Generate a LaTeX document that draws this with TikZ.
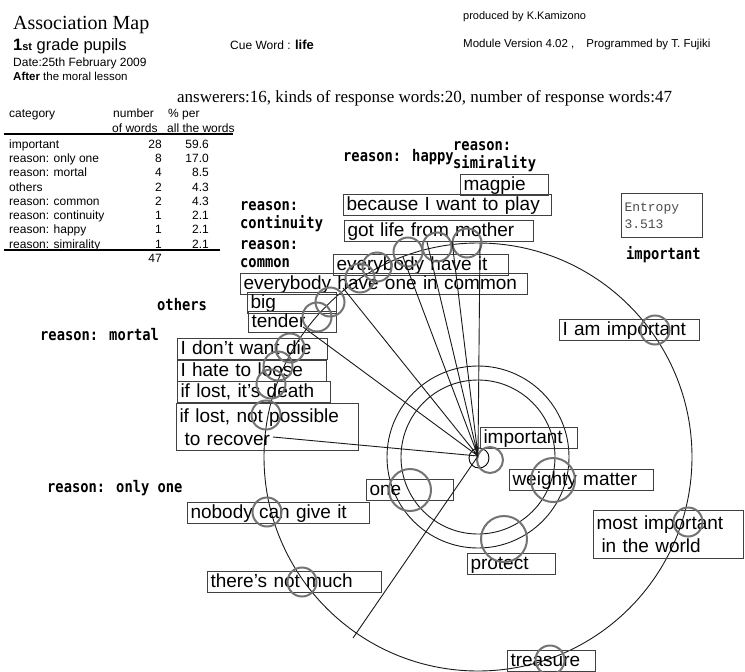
\documentclass[tikz,border=0pt]{standalone}
\usepackage{fontspec}
\setmainfont{Liberation Sans}
\newfontfamily\headfont{Liberation Serif}
\newfontfamily\tagfont[FakeStretch=0.86]{DejaVu Sans Mono Bold}
\newfontfamily\entfont{Liberation Mono}
\usetikzlibrary{positioning}

\definecolor{boxgray}{gray}{0.25}
\definecolor{ringgray}{gray}{0.45}

\tikzset{
  word/.style={draw=boxgray, line width=1pt, anchor=north west, inner xsep=3pt, inner ysep=1pt,
    text height=14.5pt, text depth=4.5pt, align=left, font=\fontsize{19}{23}\selectfont},
  word2/.style={draw=boxgray, line width=1pt, anchor=north west, inner xsep=3pt, inner ysep=1pt,
    align=left, font=\fontsize{19}{23}\selectfont},
  ring/.style={circle, draw=ringgray, line width=2pt, minimum size=29pt, inner sep=0pt},
  bigring/.style={ring, minimum size=44pt},
  tag/.style={anchor=base west, inner sep=0pt, align=left, font=\tagfont\fontsize{16}{17.5}\selectfont},
  small/.style={anchor=base west, inner sep=0pt, font=\fontsize{12}{14}\selectfont},
  num/.style={anchor=base east, inner sep=0pt, font=\fontsize{12}{14}\selectfont},
  wire/.style={line width=0.9pt, black!90}
}

\begin{document}
\begin{tikzpicture}[x=1pt, y=-1pt]
  \useasboundingbox (0,0) rectangle (745,672);

  % header
  \node (title) [anchor=base west, inner sep=0pt, font=\headfont\fontsize{20}{24}\selectfont] at (13,29) {Association Map};
  \node (grade) [anchor=base west, inner sep=0pt, font=\fontsize{16.5}{20}\selectfont] at (13,50) {\textbf{1{\fontsize{11}{13}\selectfont st}} grade pupils};
  \node (cue) [anchor=base west, inner sep=0pt, font=\fontsize{12}{14}\selectfont] at (230,49) {Cue Word : \textbf{\fontsize{13}{15}\selectfont life}};
  \node (date) [small] at (13,66) {Date:25th February 2009};
  \node (after) [small, font=\fontsize{11.5}{14}\selectfont] at (13,80) {\textbf{After} the moral lesson};
  \node (prod) [small, font=\fontsize{11}{13}\selectfont] at (463,19) {produced by K.Kamizono};
  \node (module) [small, font=\fontsize{11.5}{13}\selectfont] at (463,47) {Module Version 4.02 ,\hspace{12pt}Programmed by T. Fujiki};
  \node (answer) [anchor=base west, inner sep=0pt, font=\headfont\fontsize{17}{20}\selectfont] at (177,102) {answerers:16, kinds of response words:20, number of response words:47};

  % table
  \node (hcat) [small] at (9,117) {category};
  \node (hnum) [small] at (113,117) {number};
  \node (hpct) [small] at (168,117) {\% per};
  \node (hnum2) [small] at (112,132) {of words};
  \node (hpct2) [small] at (167,132) {all the words};
  \draw[line width=1.3pt] (4,134) -- (233,134);
  \node (c1) [small] at (9,148) {important};          \node (n1) [num] at (162,148) {28}; \node (p1) [num] at (209,148) {59.6};
  \node (c2) [small] at (9,162) {reason: only one};   \node (n2) [num] at (162,162) {8};  \node (p2) [num] at (209,162) {17.0};
  \node (c3) [small] at (9,176) {reason: mortal};     \node (n3) [num] at (162,176) {4};  \node (p3) [num] at (209,176) {8.5};
  \node (c4) [small] at (9,191) {others};             \node (n4) [num] at (162,191) {2};  \node (p4) [num] at (209,191) {4.3};
  \node (c5) [small] at (9,205) {reason: common};     \node (n5) [num] at (162,205) {2};  \node (p5) [num] at (209,205) {4.3};
  \node (c6) [small] at (9,219) {reason: continuity}; \node (n6) [num] at (162,219) {1};  \node (p6) [num] at (209,219) {2.1};
  \node (c7) [small] at (9,233) {reason: happy};      \node (n7) [num] at (162,233) {1};  \node (p7) [num] at (209,233) {2.1};
  \node (c8) [small] at (9,248) {reason: simirality}; \node (n8) [num] at (162,248) {1};  \node (p8) [num] at (209,248) {2.1};
  \draw[line width=1.3pt] (4,250) -- (220,250);
  \node (total) [num] at (162,262) {47};

  % rings of the map
  \coordinate (hub) at (478,456);
  \draw[wire] (478,457) circle[radius=214pt];
  \draw[wire] (478,457) circle[radius=91pt];
  \draw[wire] (478,457) circle[radius=77pt];
  \node (hubring) [circle, draw, line width=0.9pt, minimum size=20pt, inner sep=0pt] at (479,458) {};

  % category labels (base = last line)
  \node (happy) [tag] at (343,161) {reason: happy};
  \node (simil) [tag] at (453,168) {reason:\\simirality};
  \node (contin) [tag] at (240,228) {reason:\\continuity};
  \node (commonlab) [tag] at (240,267) {reason:\\common};
  \node (others) [tag] at (157,310) {others};
  \node (mortal) [tag] at (40,340) {reason: mortal};
  \node (onlyone) [tag] at (47,492) {reason: only one};
  \node (implab) [tag] at (626,259) {important};

  % response words
  \node (magpie) [word, text width=82pt] at (460,174) {magpie};
  \node (play) [word, text width=202pt] at (343,194) {because I want to play};
  \node (mother) [word, text width=183pt] at (344,220) {got life from mother};
  \node (haveit) [word, text width=169pt] at (333,254) {everybody have it};
  \node (incommon) [word, text width=281pt] at (240,273) {everybody have one in common};
  \node (big) [word, text width=83pt] at (247,292) {big};
  \node (tender) [word, text width=82pt] at (248,311) {tender};
  \node (die) [word, text width=144pt] at (177,338) {I don’t want die};
  \node (loose) [word, text width=143pt] at (177,360) {I hate to loose};
  \node (death) [word, text width=147pt] at (177,381) {if lost, it’s death};
  \node (recover) [word2, text width=176pt, minimum height=47pt] at (176,403) {if lost, not possible\\\hspace*{5pt}to recover};
  \node (imp) [word, text width=91pt] at (480,427) {important};
  \node (weighty) [word, text width=138pt] at (509,469) {weighty matter};
  \node (world) [word2, text width=144pt, minimum height=48pt] at (593,510) {most important\\\hspace*{5pt}in the world};
  \node (protect) [word, text width=82pt] at (467,553) {protect};
  \node (one) [word, text width=81pt] at (366,479) {one};
  \node (nobody) [word, text width=176pt] at (187,502) {nobody can give it};
  \node (notmuch) [word, text width=168pt] at (207,571) {there’s not much};
  \node (treasure) [word, text width=82pt] at (507,650) {treasure};
  \node (iam) [word, text width=134pt] at (559,319) {I am important};
  \node (entropy) [draw=boxgray, line width=1pt, anchor=north west, text width=75pt, minimum height=44pt,
    inner xsep=3pt, align=left, text=black!70, font=\entfont\fontsize{13}{17}\selectfont] at (621,193) {Entropy\\3.513};

  % frequency rings
  \node (r1) [ring] at (467,243) {};
  \node (r2) [ring] at (437,247) {};
  \node (r3) [ring] at (408,252) {};
  \node (r4) [ring] at (377,267) {};
  \node (r5) [ring] at (360,278) {};
  \node (r6) [ring] at (330,302) {};
  \node (r7) [ring] at (317,317) {};
  \node (r8) [ring] at (290,348) {};
  \node (r9) [ring] at (278,366) {};
  \node (r10) [ring] at (271,384) {};
  \node (r11) [ring] at (266,415) {};
  \node (r12) [ring] at (267,512) {};
  \node (r13) [ring] at (302,582) {};
  \node (r14) [ring] at (550,660) {};
  \node (r15) [ring] at (688,522) {};
  \node (r16) [ring] at (655,330) {};
  \node (r17) [bigring, minimum size=42pt] at (410,490) {};
  \node (r18) [bigring] at (553,480) {};
  \node (r19) [bigring, minimum size=46pt] at (504,539) {};
  \node (r20) [ring, minimum size=26pt] at (490,460) {};

  % spokes from the cue word
  \coordinate (e1) at (480,243);
  \coordinate (e2) at (452,241);
  \coordinate (e3) at (427,242);
  \coordinate (e4) at (403,257);
  \coordinate (e5) at (343,288);
  \coordinate (e6) at (303,327);
  \coordinate (e7) at (273,437);
  \coordinate (e8) at (353,638);
  \draw[wire] (hub) -- (e1) (hub) -- (e2) (hub) -- (e3) (hub) -- (e4)
              (hub) -- (e5) (hub) -- (e6) (hub) -- (e7) (hub) -- (e8);
\end{tikzpicture}
\end{document}
